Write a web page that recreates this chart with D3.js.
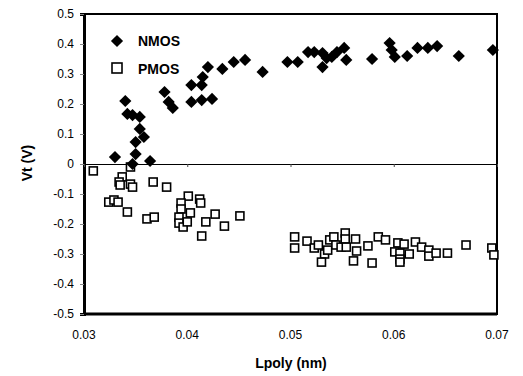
<!DOCTYPE html>
<html>
<head>
<meta charset="utf-8">
<script src="https://cdn.jsdelivr.net/npm/d3@7"></script>
<style>
  html, body { margin: 0; padding: 0; background: #fff; }
  svg { display: block; font-family: Arial, "Liberation Sans", sans-serif; }
</style>
</head>
<body>
<svg id="chart" width="523" height="376"></svg>
<script>
// NMOS threshold voltage vs Lpoly
const nmosL = [0.0330, 0.0340, 0.0342, 0.0347, 0.0354, 0.0354, 0.0358, 0.0350, 0.0350, 0.0347,
    0.0364, 0.0378, 0.0382, 0.0386, 0.0404, 0.0414, 0.0424, 0.0404, 0.0414, 0.0415, 0.0420,
    0.0434, 0.0445, 0.0456, 0.0473, 0.0497, 0.0507, 0.0517, 0.0523, 0.0531, 0.0535, 0.0531,
    0.0540, 0.0545, 0.0552, 0.0554, 0.0579, 0.0596, 0.0598, 0.0601, 0.0613, 0.0623, 0.0633,
    0.0642, 0.0663, 0.0696];
const nmosVt = [0.023, 0.210, 0.167, 0.163, 0.157, 0.117, 0.090, 0.073, 0.033, 0.000,
    0.010, 0.240, 0.207, 0.187, 0.207, 0.213, 0.217, 0.263, 0.263, 0.290, 0.323,
    0.317, 0.340, 0.347, 0.307, 0.340, 0.340, 0.373, 0.373, 0.370, 0.353, 0.323,
    0.357, 0.373, 0.387, 0.347, 0.350, 0.403, 0.380, 0.357, 0.360, 0.387, 0.387,
    0.393, 0.360, 0.380];

// PMOS threshold voltage vs Lpoly
const pmosL = [0.0309, 0.0345, 0.0337, 0.0334, 0.0335, 0.0345, 0.0347, 0.0367, 0.0380,
    0.0324, 0.0329, 0.0333, 0.0342, 0.0361, 0.0368, 0.0401, 0.0394, 0.0394, 0.0412, 0.0413,
    0.0392, 0.0392, 0.0396, 0.0403, 0.0400, 0.0418, 0.0427, 0.0414, 0.0436, 0.0451,
    0.0504, 0.0504, 0.0516, 0.0523, 0.0527, 0.0533, 0.0530, 0.0536, 0.0538, 0.0542, 0.0544,
    0.0549, 0.0553, 0.0553, 0.0554, 0.0563, 0.0564, 0.0561, 0.0575, 0.0579, 0.0585, 0.0592,
    0.0604, 0.0610, 0.0601, 0.0606, 0.0615, 0.0606, 0.0606, 0.0621, 0.0627, 0.0634, 0.0634,
    0.0641, 0.0652, 0.0670, 0.0695, 0.0697];
const pmosVt = [-0.023, -0.010, -0.043, -0.060, -0.070, -0.067, -0.077, -0.060, -0.077,
    -0.127, -0.120, -0.127, -0.160, -0.183, -0.177, -0.107, -0.130, -0.150, -0.117, -0.130,
    -0.177, -0.197, -0.210, -0.163, -0.193, -0.193, -0.167, -0.240, -0.207, -0.173,
    -0.243, -0.280, -0.257, -0.280, -0.270, -0.300, -0.327, -0.287, -0.253, -0.243, -0.270,
    -0.277, -0.230, -0.250, -0.277, -0.250, -0.290, -0.323, -0.273, -0.330, -0.243, -0.253,
    -0.263, -0.267, -0.293, -0.297, -0.300, -0.317, -0.327, -0.260, -0.277, -0.287, -0.307,
    -0.297, -0.297, -0.270, -0.280, -0.303];

const xTicks = [0.03, 0.04, 0.05, 0.06, 0.07];
const xTickLabels = ['0.03', '0.04', '0.05', '0.06', '0.07'];
const yTicks = [0.5, 0.4, 0.3, 0.2, 0.1, 0, -0.1, -0.2, -0.3, -0.4, -0.5];
const yTickLabels = ['0.5', '0.4', '0.3', '0.2', '0.1', '0', '-0.1', '-0.2', '-0.3', '-0.4', '-0.5'];

(function () {
    const svg = d3.select('#chart');
    const plot = { left: 84, right: 497, top: 14, bottom: 314 };

    const x = d3.scaleLinear().domain([0.03, 0.07]).range([plot.left, plot.right]);
    const y = d3.scaleLinear().domain([-0.5, 0.5]).range([plot.bottom, plot.top]);

    // frame
    svg.append('rect')
        .attr('x', plot.left).attr('y', plot.top)
        .attr('width', plot.right - plot.left).attr('height', plot.bottom - plot.top)
        .attr('fill', 'none').attr('stroke', '#000').attr('stroke-width', 2);

    // y axis
    const yAxis = svg.append('g')
        .attr('transform', `translate(${plot.left},0)`)
        .call(d3.axisLeft(y).tickValues(yTicks).tickSize(4).tickPadding(6)
            .tickFormat((d, i) => yTickLabels[i]));
    yAxis.select('.domain').attr('stroke', '#000').attr('stroke-width', 3);
    yAxis.selectAll('.tick line').attr('stroke', '#888');
    yAxis.selectAll('.tick text').attr('font-size', 12).attr('fill', '#000');

    // x axis line crosses at zero, labels sit at the bottom
    const xAxis = svg.append('g')
        .attr('transform', `translate(0,${y(0)})`)
        .call(d3.axisBottom(x).tickValues(xTicks).tickSize(3).tickFormat(''));
    xAxis.select('.domain').attr('stroke', '#000').attr('stroke-width', 1);
    xAxis.selectAll('.tick line').attr('stroke', '#444');

    svg.append('line')
        .attr('x1', plot.left).attr('x2', plot.right)
        .attr('y1', plot.bottom).attr('y2', plot.bottom)
        .attr('stroke', '#000').attr('stroke-width', 3);

    svg.append('g').selectAll('text')
        .data(xTicks)
        .join('text')
        .attr('x', d => x(d))
        .attr('y', 339)
        .attr('text-anchor', 'middle')
        .attr('font-size', 12)
        .attr('fill', '#000')
        .text((d, i) => xTickLabels[i]);

    // axis titles
    svg.append('text')
        .attr('x', 291).attr('y', 368)
        .attr('text-anchor', 'middle')
        .attr('font-size', 14).attr('font-weight', 'bold')
        .text('Lpoly (nm)');

    svg.append('text')
        .attr('transform', 'translate(32,163) rotate(-90)')
        .attr('text-anchor', 'middle')
        .attr('font-size', 14).attr('font-weight', 'bold')
        .text('Vt (V)');

    // PMOS squares
    const sq = 8;
    svg.append('g').selectAll('rect')
        .data(pmosL.map((l, i) => [l, pmosVt[i]]))
        .join('rect')
        .attr('x', d => x(d[0]) - sq / 2)
        .attr('y', d => y(d[1]) - sq / 2)
        .attr('width', sq).attr('height', sq)
        .attr('fill', '#fff').attr('stroke', '#000').attr('stroke-width', 1.6);

    // NMOS diamonds
    const diamond = d3.symbol().type(d3.symbolDiamond2).size(95);
    svg.append('g').selectAll('path')
        .data(nmosL.map((l, i) => [l, nmosVt[i]]))
        .join('path')
        .attr('transform', d => `translate(${x(d[0])},${y(d[1])})`)
        .attr('d', diamond)
        .attr('fill', '#000');

    // legend
    const legend = svg.append('g');
    legend.append('path')
        .attr('transform', 'translate(117,41)')
        .attr('d', diamond)
        .attr('fill', '#000');
    legend.append('rect')
        .attr('x', 112).attr('y', 63).attr('width', 10).attr('height', 10)
        .attr('fill', '#fff').attr('stroke', '#000').attr('stroke-width', 1.6);
    legend.append('text')
        .attr('x', 138).attr('y', 46)
        .attr('font-size', 14).attr('font-weight', 'bold')
        .text('NMOS');
    legend.append('text')
        .attr('x', 138).attr('y', 74)
        .attr('font-size', 14).attr('font-weight', 'bold')
        .text('PMOS');
})();
</script>
</body>
</html>
